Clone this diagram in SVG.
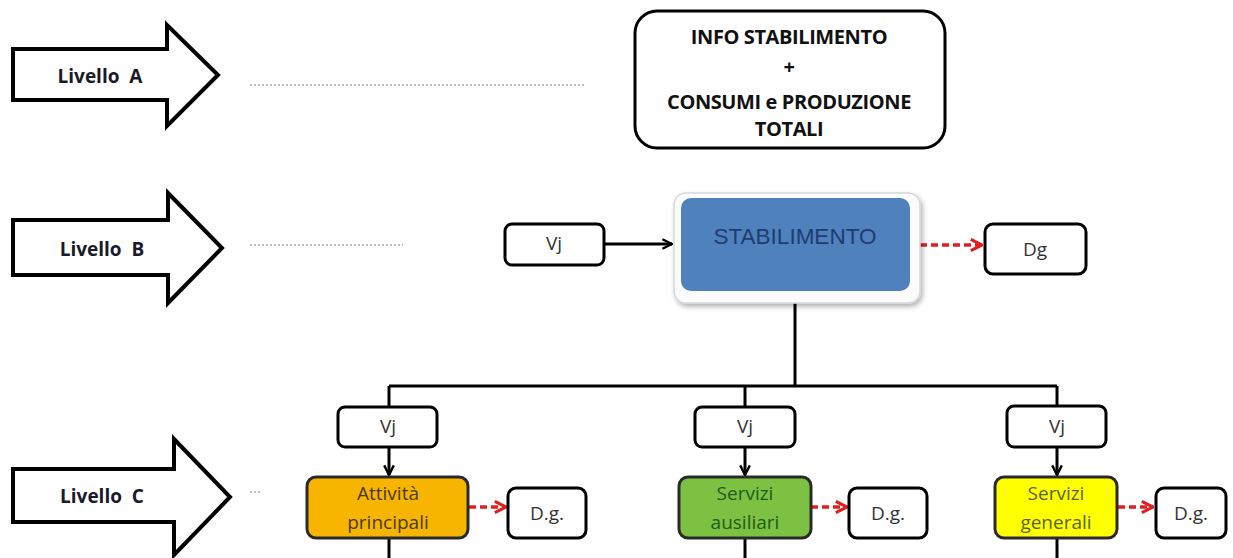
<svg xmlns="http://www.w3.org/2000/svg" width="1233" height="558" viewBox="0 0 1233 558">
<style>
.lvl{fill:#fff;stroke:#000;stroke-width:4;stroke-linejoin:miter}
.lvlt{font-family:"Open Sans","Liberation Sans",sans-serif;font-weight:bold;font-size:19px;fill:#1a1a2a;text-anchor:middle;dominant-baseline:central}
.dot{stroke:#a8a8a8;stroke-width:1.5;stroke-dasharray:2 2;fill:none}
.box{fill:#fff;stroke:#000;stroke-width:3}
.bt{font-family:"Open Sans","Liberation Sans",sans-serif;font-size:19px;fill:#333;text-anchor:middle;dominant-baseline:central}
.info{font-family:"Open Sans","Liberation Sans",sans-serif;font-weight:bold;font-size:20px;fill:#111;text-anchor:middle;dominant-baseline:central;letter-spacing:-0.4px}
.ln{stroke:#000;stroke-width:3;fill:none}
.red{stroke:#e02020;stroke-width:3.5;stroke-dasharray:7 4;fill:none}
</style>
<defs>
<marker id="ab" viewBox="0 0 10 10" refX="9" refY="5" markerWidth="4" markerHeight="4" orient="auto" markerUnits="strokeWidth">
<path d="M1,1 L9,5 L1,9" fill="none" stroke="#000" stroke-width="2"/>
</marker>
<marker id="ar" viewBox="0 0 10 10" refX="9" refY="5" markerWidth="4" markerHeight="4" orient="auto" markerUnits="strokeWidth">
<path d="M1,1 L9,5 L1,9" fill="none" stroke="#e02020" stroke-width="2.2"/>
</marker>
<filter id="sh" x="-10%" y="-10%" width="125%" height="130%">
<feDropShadow dx="2" dy="3" stdDeviation="2.5" flood-color="#000" flood-opacity="0.3"/>
</filter>
</defs>

<g id="livelloA">
<path class="lvl" d="M13,49 L167,49 L167,25 L218,75 L167,126 L167,100 L13,100 Z"/>
<text class="lvlt" x="100" y="76" xml:space="preserve">Livello  A</text>
</g>
<g id="livelloB">
<path class="lvl" d="M13,220 L168,220 L168,193 L222,248 L168,303 L168,275 L13,275 Z"/>
<text class="lvlt" x="102" y="249" xml:space="preserve">Livello  B</text>
</g>
<g id="livelloC">
<path class="lvl" d="M13,469 L174,469 L174,439 L230,497 L174,555 L174,522 L13,522 Z"/>
<text class="lvlt" x="102" y="496" xml:space="preserve">Livello  C</text>
</g>

<g id="guides">
<line class="dot" x1="250" y1="85" x2="585" y2="85"/>
<line class="dot" x1="250" y1="245" x2="403" y2="245"/>
<line class="dot" x1="250" y1="492" x2="262" y2="492"/>
</g>

<g id="info">
<rect class="box" x="635" y="11" width="310" height="137" rx="22"/>
<text class="info" x="789" y="36">INFO STABILIMENTO</text>
<text class="info" x="789" y="66">+</text>
<text class="info" x="789" y="101">CONSUMI e PRODUZIONE</text>
<text class="info" x="789" y="128">TOTALI</text>
</g>

<g id="connectors">
<line class="ln" x1="605" y1="244" x2="672" y2="244" stroke-width="2.5" marker-end="url(#ab)"/>
<line class="red" x1="920" y1="245" x2="982" y2="245" marker-end="url(#ar)"/>
<line class="ln" x1="795" y1="303" x2="795" y2="386"/>
<line class="ln" x1="389" y1="386" x2="1057" y2="386"/>
<line class="ln" x1="389" y1="386" x2="389" y2="407"/>
<line class="ln" x1="745" y1="386" x2="745" y2="407"/>
<line class="ln" x1="1057" y1="386" x2="1057" y2="406"/>
<line class="ln" x1="389" y1="447" x2="389" y2="475" marker-end="url(#ab)"/>
<line class="ln" x1="745" y1="447" x2="745" y2="475" marker-end="url(#ab)"/>
<line class="ln" x1="1057" y1="447" x2="1057" y2="475" marker-end="url(#ab)"/>
<line class="red" x1="469" y1="507" x2="506" y2="507" marker-end="url(#ar)"/>
<line class="red" x1="811" y1="507" x2="847" y2="507" marker-end="url(#ar)"/>
<line class="red" x1="1118" y1="507" x2="1153" y2="507" marker-end="url(#ar)"/>
<line class="ln" x1="389" y1="538" x2="389" y2="558"/>
<line class="ln" x1="745" y1="538" x2="745" y2="558"/>
<line class="ln" x1="1057" y1="538" x2="1057" y2="558"/>
</g>

<g id="vjB">
<rect class="box" x="505" y="224" width="99" height="41" rx="7"/>
<text class="bt" x="554" y="243">Vj</text>
</g>

<g id="stabilimento">
<rect x="674" y="193" width="246" height="110" rx="12" fill="#fbfbfb" stroke="#d4d8de" stroke-width="1.5" filter="url(#sh)"/>
<rect x="681" y="198" width="229" height="93" rx="10" fill="#4f81bd"/>
<text x="795" y="236" font-family="Liberation Sans,Arial,sans-serif" font-size="22.5" fill="#1f3b70" text-anchor="middle" dominant-baseline="central">STABILIMENTO</text>
</g>

<g id="dgB">
<rect class="box" x="985" y="224" width="101" height="50" rx="8"/>
<text class="bt" x="1035" y="249">Dg</text>
</g>

<g id="vjC1">
<rect class="box" x="338" y="407" width="99" height="40" rx="7"/>
<text class="bt" x="388" y="426">Vj</text>
</g>
<g id="vjC2">
<rect class="box" x="695" y="407" width="100" height="40" rx="7"/>
<text class="bt" x="745" y="426">Vj</text>
</g>
<g id="vjC3">
<rect class="box" x="1007" y="406" width="99" height="41" rx="7"/>
<text class="bt" x="1057" y="426">Vj</text>
</g>

<g id="attivita">
<rect x="307" y="477" width="161" height="61" rx="9" fill="#f7b500" stroke="#2a2a2a" stroke-width="3"/>
<text class="bt" x="388" y="493" style="fill:#4a3a10">Attività</text>
<text class="bt" x="388" y="522" style="fill:#4a3a10">principali</text>
</g>
<g id="dg1">
<rect class="box" x="508" y="488" width="78" height="50" rx="8"/>
<text class="bt" x="547" y="513">D.g.</text>
</g>

<g id="ausiliari">
<rect x="679" y="477" width="132" height="61" rx="9" fill="#7dc142" stroke="#2a2a2a" stroke-width="3"/>
<text class="bt" x="745" y="493" style="fill:#245a18">Servizi</text>
<text class="bt" x="745" y="522" style="fill:#245a18">ausiliari</text>
</g>
<g id="dg2">
<rect class="box" x="849" y="488" width="78" height="50" rx="8"/>
<text class="bt" x="888" y="513">D.g.</text>
</g>

<g id="generali">
<rect x="995" y="477" width="122" height="61" rx="9" fill="#ffff00" stroke="#2a2a2a" stroke-width="3"/>
<text class="bt" x="1056" y="493" style="fill:#5a6418">Servizi</text>
<text class="bt" x="1056" y="522" style="fill:#5a6418">generali</text>
</g>
<g id="dg3">
<rect class="box" x="1156" y="488" width="70" height="50" rx="8"/>
<text class="bt" x="1191" y="513">D.g.</text>
</g>
</svg>
